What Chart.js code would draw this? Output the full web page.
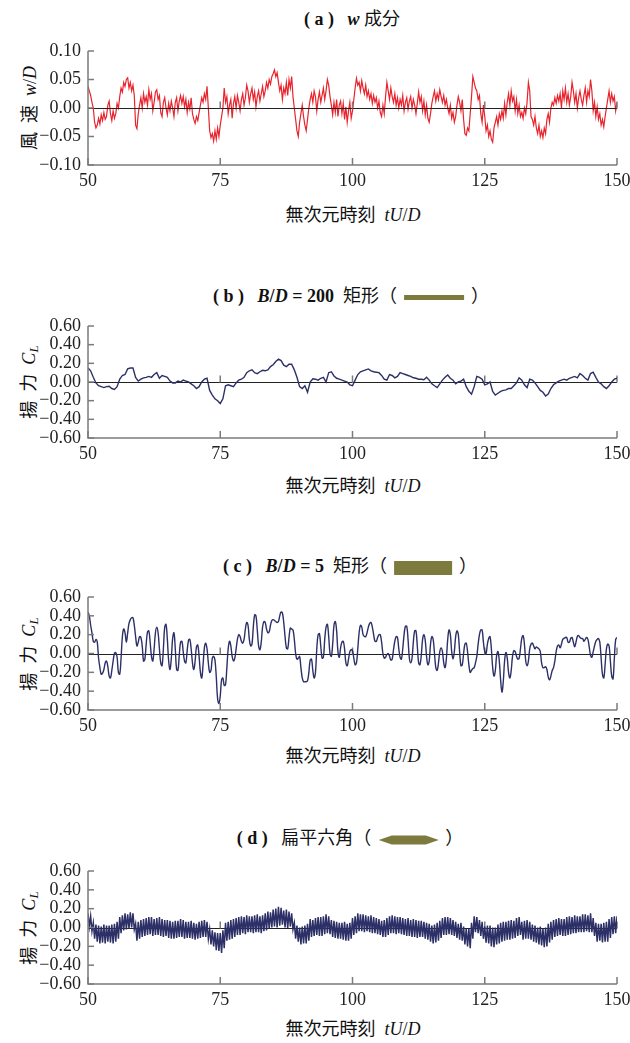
<!DOCTYPE html>
<html>
<head>
<meta charset="utf-8">
<script src="https://cdn.jsdelivr.net/npm/chart.js@4.4.1/dist/chart.umd.min.js"></script>
<style>
  body { margin: 0; background: #fff; }
  #wrap { position: relative; width: 630px; height: 1043px; overflow: hidden; background: #fff; }
  canvas { position: absolute; left: 0; }
  .t { position: absolute; white-space: nowrap; transform: translate(-50%, -50%); font-size: 18px; color: #111; line-height: 1; }
  .ser { font-family: "Liberation Serif", serif; }
  .b { font-weight: bold; }
  .i { font-style: italic; }
  .cjk { font-family: "Noto Sans CJK JP", sans-serif; }
  .yl { transform: translate(-50%, -50%) rotate(-90deg); }
  .sw { display: inline-block; background: #7d7a3d; vertical-align: middle; }
  sub { font-size: 13px; vertical-align: -3px; }
</style>
</head>
<body>
<div id="wrap">
  <!-- titles -->
  <div class="t" style="left:352px;top:18px"><span class="ser b">( a )</span>&ensp;&nbsp;<span class="ser b i">w</span> <span class="cjk">成分</span></div>
  <div class="t" style="left:351px;top:295px"><span class="ser b">( b )</span>&ensp;&nbsp;<span class="ser b"><i>B</i>/<i>D</i> = 200</span>&nbsp; <span class="cjk">矩形（</span><span class="sw" style="width:60px;height:5px;margin:0 7px"></span><span class="cjk">）</span></div>
  <div class="t" style="left:350px;top:565px"><span class="ser b">( c )</span>&ensp;&nbsp;<span class="ser b"><i>B</i>/<i>D</i> = 5</span>&nbsp; <span class="cjk">矩形（</span><span class="sw" style="width:58px;height:14px;margin:0 7px"></span><span class="cjk">）</span></div>
  <div class="t" style="left:350px;top:837px"><span class="ser b">( d )</span>&ensp;&nbsp;<span class="cjk">扁平六角（</span><svg width="60" height="10" style="vertical-align:middle;margin:0 7px"><polygon points="0,5 13,0.5 47,0.5 60,5 47,9.5 13,9.5" fill="#7d7a3d"/></svg><span class="cjk">）</span></div>

  <!-- x axis titles -->
  <div class="t" style="left:353px;top:214px"><span class="cjk">無次元時刻</span>&ensp;<span class="ser i">tU</span><span class="ser">/</span><span class="ser i">D</span></div>
  <div class="t" style="left:353px;top:485px"><span class="cjk">無次元時刻</span>&ensp;<span class="ser i">tU</span><span class="ser">/</span><span class="ser i">D</span></div>
  <div class="t" style="left:353px;top:755px"><span class="cjk">無次元時刻</span>&ensp;<span class="ser i">tU</span><span class="ser">/</span><span class="ser i">D</span></div>
  <div class="t" style="left:353px;top:1028px"><span class="cjk">無次元時刻</span>&ensp;<span class="ser i">tU</span><span class="ser">/</span><span class="ser i">D</span></div>

  <!-- y axis titles -->
  <div class="t yl" style="left:29px;top:108px"><span class="cjk">風&ensp;速</span>&ensp;<span class="ser i">w</span><span class="ser">/</span><span class="ser i">D</span></div>
  <div class="t yl" style="left:29px;top:382px"><span class="cjk">揚&ensp;力</span>&ensp;<span class="ser i">C<sub>L</sub></span></div>
  <div class="t yl" style="left:29px;top:654px"><span class="cjk">揚&ensp;力</span>&ensp;<span class="ser i">C<sub>L</sub></span></div>
  <div class="t yl" style="left:29px;top:928px"><span class="cjk">揚&ensp;力</span>&ensp;<span class="ser i">C<sub>L</sub></span></div>
</div>

<script>
// time axis: 50 .. 150
const T_START = 50;
const X_TICKS = [50, 75, 100, 125, 150];
const Y_TICKS_W = [-0.10, -0.05, 0.00, 0.05, 0.10];
const Y_TICKS_CL = [-0.6, -0.4, -0.2, 0.0, 0.2, 0.4, 0.6];

// (a) w component, one row per time unit (step 0.25)
const W_COMP = [
  0.038, 0.030, 0.022, 0.010,
  0.000, -0.025, -0.035, -0.030,
  -0.018, -0.028, -0.012, -0.022,
  -0.008, -0.020, -0.015, 0.005,
  0.012, -0.010, -0.022, -0.005,
  -0.018, -0.010, 0.008, 0.000,
  0.020, 0.035, 0.028, 0.045,
  0.038, 0.050, 0.053, 0.035,
  0.045, 0.030, 0.040, 0.022,
  -0.030, -0.036, -0.010, 0.005,
  0.018, 0.000, 0.025, 0.010,
  0.020, 0.005, 0.032, 0.015,
  0.025, -0.005, 0.010, 0.028,
  0.032, 0.015, 0.022, -0.008,
  -0.015, 0.010, 0.018, 0.000,
  -0.012, 0.008, -0.005, 0.012,
  0.000, -0.015, 0.010, 0.018,
  -0.005, 0.012, 0.022, 0.008,
  0.020, 0.002, 0.015, -0.008,
  0.010, -0.002, 0.018, -0.010,
  -0.020, -0.027, -0.015, -0.022,
  -0.008, 0.005, 0.018, 0.010,
  0.025, 0.015, 0.038, 0.000,
  -0.040, -0.052, -0.045, -0.058,
  -0.040, -0.055, -0.035, -0.050,
  -0.030, -0.015, 0.000, 0.035,
  0.010, 0.020, -0.010, 0.005,
  0.015, -0.018, 0.008, 0.020,
  0.000, 0.022, 0.010, -0.005,
  0.015, 0.025, 0.005, 0.018,
  0.040, 0.030, 0.010, 0.025,
  0.035, 0.015, 0.028, 0.002,
  0.020, 0.030, 0.012, 0.025,
  0.038, 0.020, 0.030, 0.045,
  0.035, 0.050, 0.042, 0.055,
  0.060, 0.067, 0.055, 0.062,
  0.045, 0.030, 0.040, 0.015,
  0.035, 0.025, 0.045, 0.022,
  0.050, 0.035, 0.055, 0.020,
  0.000, -0.020, -0.040, -0.050,
  -0.025, -0.010, 0.005, -0.015,
  -0.030, -0.040, -0.020, 0.000,
  0.015, 0.025, 0.010, 0.030,
  0.020, -0.005, 0.015, 0.028,
  0.010, 0.022, 0.035, 0.015,
  0.030, 0.050, 0.040, 0.020,
  0.005, -0.012, 0.010, -0.008,
  0.015, -0.015, 0.005, 0.012,
  -0.010, 0.008, -0.020, 0.002,
  -0.025, -0.005, 0.010, -0.018,
  -0.005, 0.015, 0.035, 0.052,
  0.040, 0.045, 0.030, 0.048,
  0.035, 0.025, 0.040, 0.020,
  0.030, 0.015, 0.025, 0.008,
  0.022, 0.010, 0.018, 0.000,
  0.012, -0.008, -0.015, 0.005,
  -0.010, 0.020, 0.045, 0.030,
  0.015, 0.035, 0.020, 0.010,
  0.025, 0.005, 0.018, 0.000,
  0.015, 0.005, 0.022, -0.005,
  0.010, 0.018, -0.002, 0.012,
  0.020, 0.000, 0.015, 0.005,
  -0.010, 0.008, 0.028, 0.010,
  0.020, -0.005, 0.012, -0.012,
  0.005, -0.018, -0.025, -0.010,
  0.008, 0.020, 0.030, 0.012,
  0.025, 0.015, 0.032, 0.020,
  0.010, 0.022, 0.005, 0.015,
  0.000, -0.010, 0.005, -0.018,
  -0.008, -0.025, -0.015, 0.005,
  0.020, 0.010, -0.005, 0.015,
  -0.020, -0.045, -0.048, -0.035,
  -0.040, -0.010, 0.020, 0.055,
  0.045, 0.035, 0.030, 0.015,
  0.022, -0.010, -0.025, 0.005,
  -0.015, -0.040, -0.030, -0.050,
  -0.040, -0.055, -0.060, -0.035,
  -0.025, -0.015, -0.030, -0.010,
  -0.020, -0.005, -0.018, 0.008,
  -0.012, 0.010, 0.025, 0.005,
  0.030, 0.012, 0.020, -0.005,
  0.015, -0.010, 0.005, -0.015,
  -0.008, -0.018, 0.000, -0.010,
  0.010, 0.045, 0.030, -0.015,
  -0.020, -0.030, -0.015, -0.035,
  -0.045, -0.030, -0.050, -0.040,
  -0.052, -0.035, -0.045, -0.020,
  -0.010, -0.025, 0.000, 0.010,
  0.005, 0.018, 0.008, 0.022,
  0.012, 0.025, 0.000, 0.030,
  0.015, 0.035, 0.010, 0.025,
  0.005, 0.020, 0.045, 0.030,
  0.010, 0.025, 0.000, 0.018,
  0.030, 0.015, 0.005, 0.022,
  0.035, 0.010, 0.030, 0.020,
  0.050, 0.030, -0.005, 0.010,
  -0.015, 0.002, -0.020, -0.010,
  -0.030, -0.020, -0.033, -0.015,
  0.000, 0.015, 0.030, 0.010,
  0.025, 0.012, 0.020, -0.005,
  0.010
];

// (b) CL, B/D = 200, step 0.5 (5 time units per row)
const CL_200 = [
  0.15, 0.12, 0.05, -0.01, -0.04, -0.05, -0.06, -0.05, -0.045, -0.07,
  -0.08, -0.05, 0.03, 0.07, 0.08, 0.14, 0.15, 0.15, 0.05, 0.01,
  0.03, 0.045, 0.05, 0.06, 0.05, 0.08, 0.10, 0.04, 0.07, 0.06,
  0.05, 0.01, -0.01, -0.01, 0.01, 0.00, 0.02, 0.01, 0.00, -0.02,
  -0.04, -0.07, -0.05, 0.00, 0.03, 0.04, -0.09, -0.14, -0.18, -0.20,
  -0.23, -0.18, -0.04, -0.03, -0.04, -0.05, -0.01, 0.02, 0.03, 0.05,
  0.10, 0.12, 0.13, 0.10, 0.09, 0.11, 0.125, 0.12, 0.13, 0.165,
  0.185, 0.22, 0.245, 0.23, 0.18, 0.165, 0.19, 0.19, 0.13, 0.05,
  -0.05, -0.07, -0.04, -0.11, 0.00, 0.035, 0.03, 0.02, 0.04, 0.05,
  0.00, 0.10, 0.11, 0.065, 0.04, 0.03, 0.02, 0.01, 0.00, -0.03,
  -0.04, 0.02, 0.08, 0.11, 0.12, 0.13, 0.14, 0.12, 0.11, 0.105,
  0.10, 0.07, 0.03, 0.02, 0.08, 0.07, 0.045, 0.06, 0.10, 0.09,
  0.08, 0.07, 0.06, 0.045, 0.04, 0.03, 0.03, 0.025, 0.05, 0.02,
  -0.02, -0.04, -0.06, -0.02, 0.02, 0.05, 0.075, 0.04, 0.02, -0.02,
  0.00, 0.01, 0.03, -0.05, -0.10, -0.13, -0.05, 0.06, 0.05, 0.03,
  -0.03, -0.02, 0.00, -0.10, -0.14, -0.12, -0.10, -0.09, -0.085, -0.07,
  -0.07, -0.04, -0.01, 0.045, 0.02, -0.03, -0.06, 0.03, 0.02, -0.01,
  -0.05, -0.09, -0.11, -0.15, -0.13, -0.07, -0.03, -0.01, 0.01, 0.02,
  0.03, 0.02, 0.04, 0.05, 0.06, 0.045, 0.09, 0.07, 0.04, 0.02,
  0.09, 0.105, 0.05, 0.00, -0.02, -0.05, -0.07, -0.04, 0.00, 0.03,
  0.04
];

// (c) CL, B/D = 5, one row per time unit (step 0.25)
const CL_5 = [
  0.44, 0.40, 0.30, 0.22,
  0.13, 0.12, 0.15, 0.12,
  -0.05, -0.15, -0.22, -0.21,
  -0.17, -0.10, -0.08, -0.14,
  -0.24, -0.26, -0.18, -0.08,
  0.00, 0.01, -0.04, -0.20,
  -0.22, -0.05, 0.18, 0.26,
  0.22, 0.12, 0.22, 0.32,
  0.36, 0.38, 0.38, 0.30,
  0.18, 0.08, 0.12, 0.18,
  0.17, 0.08, -0.08, -0.06,
  0.10, 0.23, 0.24, 0.12,
  -0.03, -0.08, 0.05, 0.22,
  0.28, 0.22, 0.05, -0.10,
  -0.13, 0.05, 0.28, 0.31,
  0.15, -0.08, -0.17, -0.05,
  0.16, 0.22, 0.05, -0.17,
  -0.18, -0.02, 0.12, 0.13,
  0.02, -0.08, -0.10, 0.03,
  0.14, 0.15, 0.05, -0.10,
  -0.17, -0.08, 0.07, 0.09,
  -0.03, -0.20, -0.26, -0.12,
  0.06, 0.11, 0.05, -0.10,
  -0.20, -0.18, -0.05, -0.03,
  -0.07, -0.25, -0.48, -0.53,
  -0.45, -0.28, -0.26, -0.34,
  -0.33, -0.15, 0.05, 0.13,
  0.08, -0.03, -0.08, -0.05,
  0.05, 0.15, 0.20, 0.18,
  0.13, 0.11, 0.15, 0.26,
  0.33, 0.30, 0.15, 0.08,
  0.10, 0.28, 0.41, 0.40,
  0.25, 0.08, 0.04, 0.12,
  0.28, 0.34, 0.33, 0.26,
  0.22, 0.23, 0.30, 0.35,
  0.36, 0.35, 0.34, 0.33,
  0.34, 0.40, 0.44, 0.43,
  0.33, 0.18, 0.06, 0.05,
  0.17, 0.27, 0.26, 0.25,
  0.15, 0.00, -0.06, -0.05,
  -0.03, -0.15, -0.26, -0.30,
  -0.30, -0.30, -0.29, -0.20,
  -0.07, -0.06, -0.18, -0.26,
  -0.20, 0.05, 0.20, 0.21,
  0.08, -0.05, -0.04, 0.15,
  0.28, 0.31, 0.18, 0.00,
  -0.03, 0.10, 0.30, 0.34,
  0.24, 0.02, -0.04, 0.06,
  0.12, 0.13, 0.05, -0.10,
  -0.13, -0.06, 0.02, 0.04,
  0.03, -0.05, -0.12, -0.10,
  0.05, 0.22, 0.30, 0.28,
  0.20, 0.18, 0.18, 0.22,
  0.28, 0.32, 0.33, 0.28,
  0.20, 0.13, 0.13, 0.17,
  0.20, 0.20, 0.12, 0.00,
  -0.05, -0.04, -0.01, 0.00,
  -0.03, -0.07, -0.06, 0.04,
  0.13, 0.18, 0.17, 0.05,
  -0.04, -0.06, 0.05, 0.20,
  0.29, 0.29, 0.15, -0.05,
  -0.10, -0.05, 0.12, 0.24,
  0.24, 0.08, -0.10, -0.12,
  -0.02, 0.15, 0.20, 0.14,
  -0.03, -0.12, -0.08, 0.10,
  0.18, 0.15, 0.00, -0.15,
  -0.18, -0.10, 0.02, 0.06,
  0.02, -0.10, -0.15, -0.05,
  0.15, 0.25, 0.20, 0.02,
  -0.06, 0.02, 0.18, 0.24,
  0.20, 0.02, -0.13, -0.12,
  0.00, 0.10, 0.11, 0.02,
  -0.12, -0.20, -0.18, -0.16,
  -0.15, -0.10, -0.03, 0.10,
  0.20, 0.25, 0.25, 0.12,
  0.02, 0.00, 0.10, 0.16,
  0.18, 0.05, -0.15, -0.24,
  -0.18, -0.02, 0.02, -0.08,
  -0.28, -0.41, -0.30, -0.08,
  0.01, -0.05, -0.20, -0.26,
  -0.18, -0.03, 0.03, 0.02,
  -0.03, -0.06, -0.05, 0.05,
  0.16, 0.19, 0.10, -0.08,
  -0.13, -0.08, 0.05, 0.10,
  0.11, 0.08, 0.05, 0.07,
  0.06, 0.05, 0.02, -0.10,
  -0.15, -0.15, -0.14, -0.17,
  -0.25, -0.28, -0.24, -0.18,
  -0.15, -0.08, 0.02, 0.08,
  0.09, 0.06, 0.10, 0.15,
  0.16, 0.17, 0.17, 0.12,
  0.12, 0.16, 0.17, 0.12,
  0.07, 0.12, 0.18, 0.19,
  0.17, 0.16, 0.16, 0.13,
  0.15, 0.17, 0.15, 0.07,
  -0.02, -0.04, 0.02, 0.08,
  0.13, 0.15, 0.16, 0.12,
  -0.05, -0.22, -0.26, -0.12,
  0.05, 0.10, 0.08, -0.08,
  -0.24, -0.27, -0.05, 0.15,
  0.17
];

// (d) CL, flat hexagon, one row per time unit (step 0.25)
const CL_HEX = [
  0.15, 0.01, 0.12, -0.04,
  0.05, -0.12, 0.03, -0.15,
  0.02, -0.17, 0.01, -0.16,
  0.03, -0.17, 0.02, -0.15,
  0.02, -0.16, 0.03, -0.17,
  0.04, -0.15, 0.06, -0.12,
  0.11, -0.06, 0.13, -0.03,
  0.15, -0.02, 0.14, -0.01,
  0.16, 0.00, 0.15, -0.02,
  0.04, -0.14, 0.06, -0.12,
  0.08, -0.10, 0.09, -0.09,
  0.10, -0.08, 0.11, -0.07,
  0.11, -0.09, 0.09, -0.08,
  0.10, -0.08, 0.11, -0.09,
  0.09, -0.10, 0.08, -0.09,
  0.08, -0.11, 0.07, -0.12,
  0.06, -0.12, 0.07, -0.11,
  0.07, -0.10, 0.09, -0.10,
  0.08, -0.12, 0.06, -0.11,
  0.06, -0.11, 0.07, -0.12,
  0.05, -0.13, 0.04, -0.12,
  0.06, -0.11, 0.07, -0.10,
  0.08, -0.10, 0.06, -0.12,
  -0.02, -0.18, -0.03, -0.20,
  -0.05, -0.24, -0.06, -0.25,
  -0.06, -0.27, -0.03, -0.22,
  0.05, -0.14, 0.06, -0.13,
  0.08, -0.12, 0.09, -0.10,
  0.10, -0.08, 0.11, -0.08,
  0.12, -0.06, 0.11, -0.07,
  0.13, -0.05, 0.12, -0.05,
  0.12, -0.06, 0.13, -0.05,
  0.14, -0.05, 0.12, -0.06,
  0.13, -0.04, 0.15, -0.03,
  0.17, -0.01, 0.16, 0.00,
  0.19, 0.01, 0.20, 0.00,
  0.22, 0.02, 0.21, 0.03,
  0.18, 0.00, 0.19, -0.01,
  0.17, 0.01, 0.15, -0.02,
  0.05, -0.12, 0.02, -0.15,
  0.00, -0.18, 0.01, -0.17,
  0.02, -0.17, 0.04, -0.14,
  0.09, -0.10, 0.08, -0.09,
  0.10, -0.08, 0.11, -0.09,
  0.11, -0.09, 0.12, -0.07,
  0.14, -0.06, 0.12, -0.07,
  0.08, -0.10, 0.07, -0.11,
  0.06, -0.12, 0.05, -0.12,
  0.05, -0.13, 0.06, -0.14,
  0.04, -0.14, 0.05, -0.12,
  0.10, -0.08, 0.12, -0.06,
  0.15, -0.04, 0.14, -0.04,
  0.14, -0.05, 0.13, -0.04,
  0.12, -0.05, 0.13, -0.06,
  0.11, -0.06, 0.10, -0.07,
  0.09, -0.08, 0.07, -0.10,
  0.08, -0.10, 0.10, -0.08,
  0.12, -0.06, 0.13, -0.06,
  0.12, -0.07, 0.11, -0.06,
  0.11, -0.07, 0.10, -0.08,
  0.09, -0.09, 0.10, -0.09,
  0.08, -0.10, 0.09, -0.10,
  0.08, -0.11, 0.07, -0.10,
  0.07, -0.10, 0.06, -0.12,
  0.05, -0.13, 0.04, -0.15,
  0.02, -0.17, 0.03, -0.16,
  0.05, -0.14, 0.07, -0.11,
  0.10, -0.08, 0.11, -0.08,
  0.11, -0.07, 0.10, -0.08,
  0.08, -0.09, 0.06, -0.11,
  0.04, -0.13, 0.05, -0.14,
  0.01, -0.18, -0.01, -0.20,
  -0.01, -0.22, 0.05, -0.12,
  0.12, -0.05, 0.11, -0.06,
  0.08, -0.09, 0.06, -0.12,
  0.01, -0.16, 0.02, -0.17,
  0.02, -0.20, 0.00, -0.21,
  0.00, -0.18, 0.03, -0.17,
  0.05, -0.15, 0.06, -0.14,
  0.06, -0.13, 0.07, -0.13,
  0.08, -0.12, 0.07, -0.11,
  0.10, -0.09, 0.11, -0.08,
  0.06, -0.13, 0.07, -0.12,
  0.08, -0.12, 0.06, -0.13,
  0.03, -0.15, 0.02, -0.16,
  0.00, -0.18, 0.01, -0.19,
  -0.01, -0.21, 0.00, -0.20,
  0.04, -0.16, 0.06, -0.13,
  0.08, -0.10, 0.09, -0.09,
  0.10, -0.08, 0.09, -0.09,
  0.09, -0.09, 0.11, -0.08,
  0.12, -0.07, 0.11, -0.06,
  0.13, -0.06, 0.12, -0.05,
  0.12, -0.05, 0.14, -0.05,
  0.14, -0.04, 0.13, -0.05,
  0.15, -0.05, 0.10, -0.09,
  0.05, -0.15, 0.04, -0.14,
  0.04, -0.16, 0.05, -0.15,
  0.06, -0.15, 0.09, -0.11,
  0.11, -0.07, 0.12, -0.06,
  0.12
];

const RED = '#e8232c';
const NAVY = '#2c3066';
const AXIS_GRAY = '#7b7b7b';

const PANELS = [
  { values: W_COMP, step: 0.25, color: RED,  width: 1.2, top: 51,  h: 114, min: -0.1, max: 0.1, yTicks: Y_TICKS_W,  zeroOnTop: true,  tension: 0 },
  { values: CL_200, step: 0.5,  color: NAVY, width: 1.4, top: 326, h: 112, min: -0.6, max: 0.6, yTicks: Y_TICKS_CL, zeroOnTop: false, tension: 0 },
  { values: CL_5,   step: 0.25, color: NAVY, width: 1.4, top: 597, h: 113, min: -0.6, max: 0.6, yTicks: Y_TICKS_CL, zeroOnTop: false, tension: 0.4 },
  { values: CL_HEX, step: 0.25, color: NAVY, width: 1.5, top: 871, h: 113, min: -0.6, max: 0.6, yTicks: Y_TICKS_CL, zeroOnTop: false, tension: 0 }
];

const PAD_TOP = 12;
const PAD_RIGHT = 13;
const Y_AXIS_W = 88;
const X_AXIS_H = 30;
const TICK_FONT = { family: 'Liberation Serif', size: 18 };

function fmt(v) {
  if (Math.abs(v) < 1e-9) v = 0;
  const s = Math.abs(v).toFixed(2);
  return v < 0 ? '\u2212' + s : s;
}

function drawZero(chart) {
  const { ctx, chartArea: a, scales: { x, y } } = chart;
  const y0 = Math.round(y.getPixelForValue(0)) + 0.5;
  ctx.save();
  ctx.strokeStyle = '#222';
  ctx.lineWidth = 1;
  ctx.beginPath();
  ctx.moveTo(a.left, y0);
  ctx.lineTo(a.right, y0);
  ctx.stroke();
  // small ticks standing on the zero line
  ctx.strokeStyle = AXIS_GRAY;
  ctx.lineWidth = 1.5;
  x.ticks.forEach(t => {
    if (t.value === T_START) return;
    const px = x.getPixelForValue(t.value);
    ctx.beginPath();
    ctx.moveTo(px, y0);
    ctx.lineTo(px, y0 - 7);
    ctx.stroke();
  });
  ctx.restore();
}

function drawAxes(chart) {
  const { ctx, chartArea: a, scales: { x, y } } = chart;
  ctx.save();
  ctx.strokeStyle = AXIS_GRAY;
  ctx.lineWidth = 1.5;
  ctx.beginPath();
  ctx.moveTo(a.left, a.top);
  ctx.lineTo(a.left, a.bottom);
  ctx.lineTo(a.right, a.bottom);
  ctx.stroke();
  y.ticks.forEach(t => {
    const py = y.getPixelForValue(t.value);
    ctx.beginPath();
    ctx.moveTo(a.left, py);
    ctx.lineTo(a.left + 6, py);
    ctx.stroke();
  });
  x.ticks.forEach(t => {
    const px = x.getPixelForValue(t.value);
    ctx.beginPath();
    ctx.moveTo(px, a.bottom);
    ctx.lineTo(px, a.bottom - 7);
    ctx.stroke();
  });
  ctx.restore();
}

const framePlugin = {
  id: 'frame',
  beforeDatasetsDraw(chart, args, opts) {
    if (!opts.zeroOnTop) drawZero(chart);
  },
  afterDatasetsDraw(chart, args, opts) {
    if (opts.zeroOnTop) drawZero(chart);
    drawAxes(chart);
  }
};

const wrap = document.getElementById('wrap');

PANELS.forEach(p => {
  const canvas = document.createElement('canvas');
  const ch = PAD_TOP + p.h + X_AXIS_H;
  canvas.width = 630;
  canvas.height = ch;
  canvas.style.width = '630px';
  canvas.style.height = ch + 'px';
  canvas.style.top = (p.top - PAD_TOP) + 'px';
  wrap.appendChild(canvas);

  const points = p.values.map((v, i) => ({ x: T_START + i * p.step, y: v }));

  new Chart(canvas.getContext('2d'), {
    type: 'line',
    data: {
      datasets: [{
        data: points,
        borderColor: p.color,
        borderWidth: p.width,
        pointRadius: 0,
        tension: p.tension,
        fill: false
      }]
    },
    options: {
      responsive: false,
      animation: false,
      devicePixelRatio: 1,
      parsing: false,
      layout: { padding: { top: PAD_TOP, right: PAD_RIGHT, left: 0, bottom: 0 } },
      plugins: {
        legend: { display: false },
        tooltip: { enabled: false },
        frame: { zeroOnTop: p.zeroOnTop }
      },
      scales: {
        x: {
          type: 'linear',
          min: 50,
          max: 150,
          grid: { display: false, drawTicks: false },
          border: { display: false },
          afterBuildTicks: s => { s.ticks = X_TICKS.map(v => ({ value: v })); },
          afterFit: s => { s.height = X_AXIS_H; s.paddingLeft = 0; s.paddingRight = 0; },
          ticks: {
            font: TICK_FONT,
            color: '#222',
            padding: 5,
            maxRotation: 0,
            autoSkip: false
          }
        },
        y: {
          type: 'linear',
          min: p.min,
          max: p.max,
          grid: { display: false, drawTicks: false },
          border: { display: false },
          afterBuildTicks: s => { s.ticks = p.yTicks.map(v => ({ value: v })); },
          afterFit: s => { s.width = Y_AXIS_W; s.paddingTop = 0; s.paddingBottom = 0; },
          ticks: {
            font: TICK_FONT,
            color: '#222',
            padding: 7,
            autoSkip: false,
            callback: v => fmt(v)
          }
        }
      }
    },
    plugins: [framePlugin]
  });
});
</script>
</body>
</html>
